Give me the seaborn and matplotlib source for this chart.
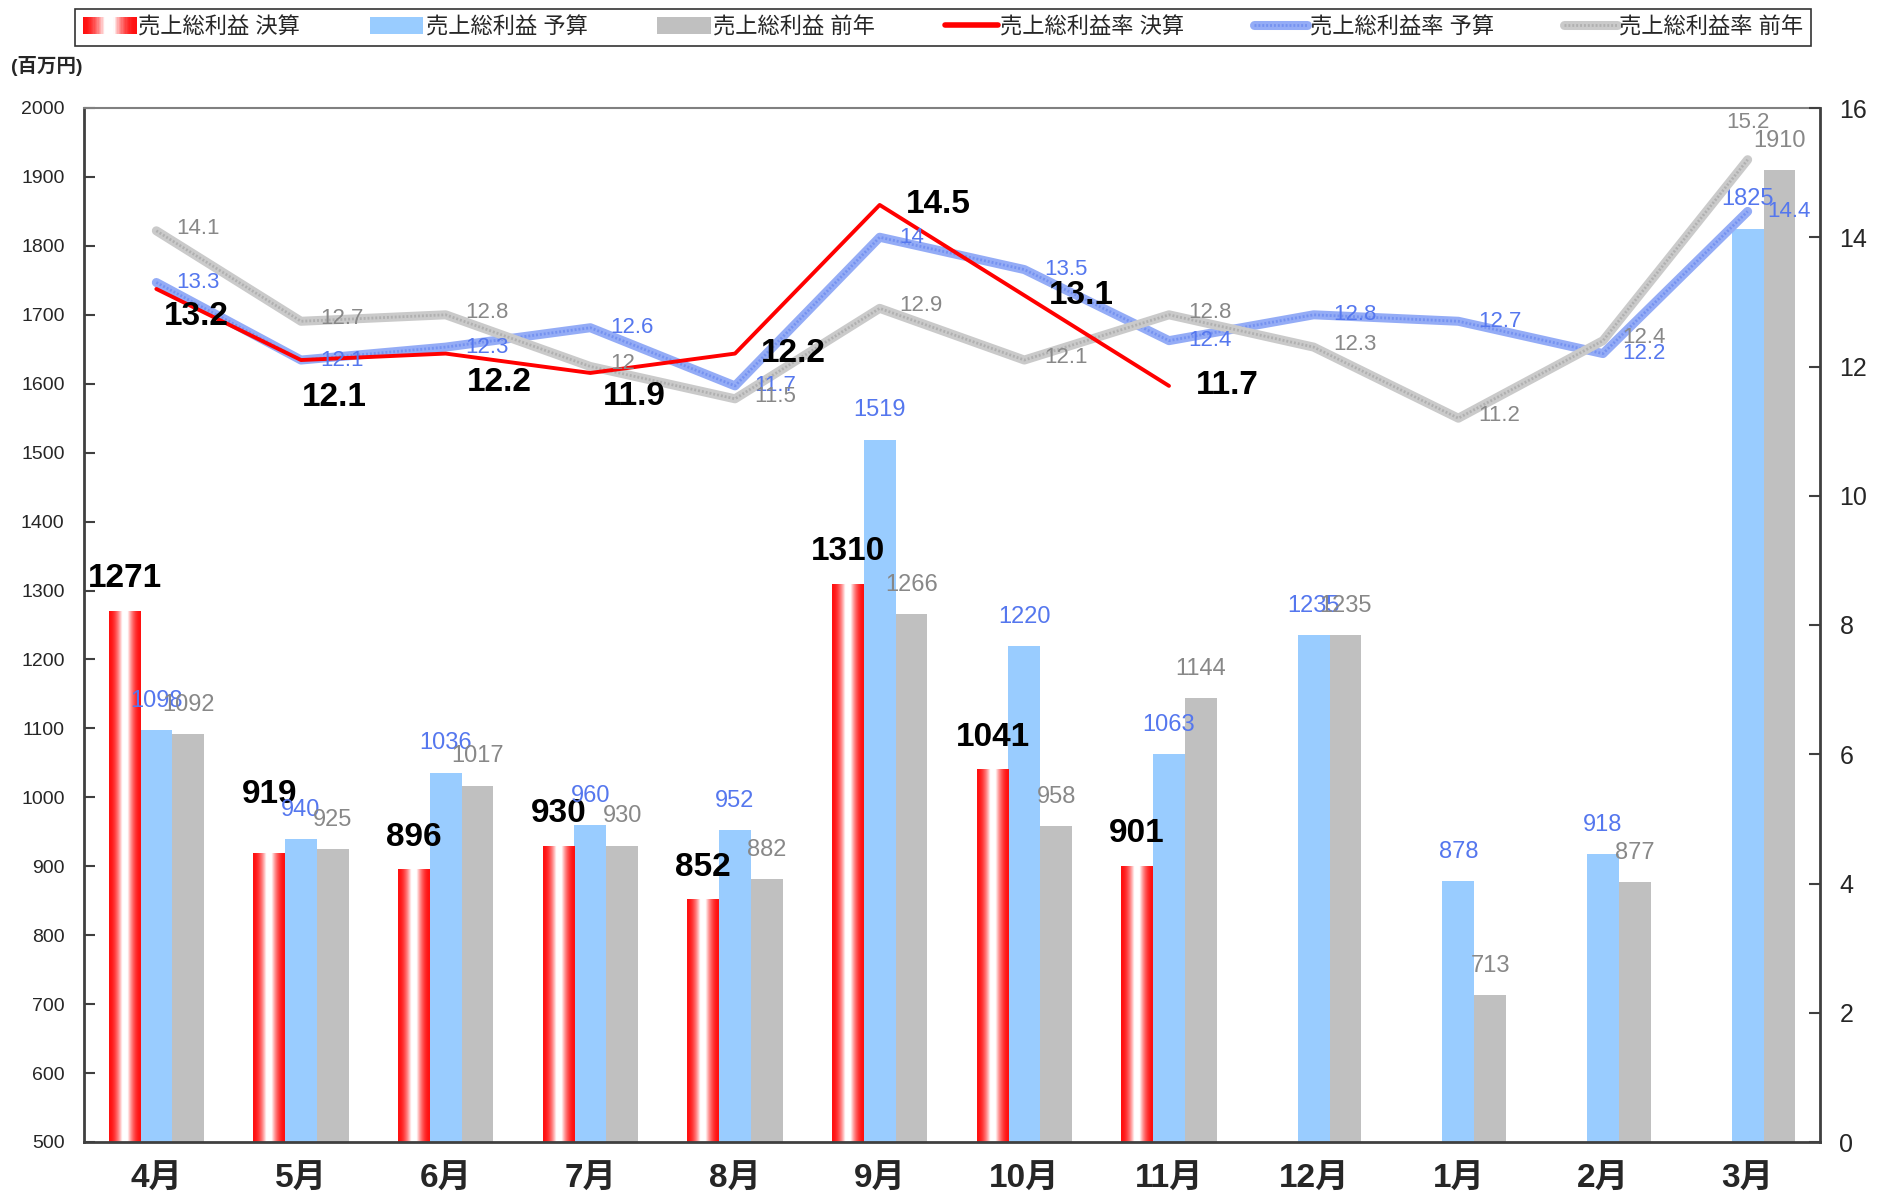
import numpy as np
import pandas as pd
import matplotlib
matplotlib.use('Agg')
import matplotlib.pyplot as plt
import seaborn as sns
from matplotlib.colors import LinearSegmentedColormap
from matplotlib.legend_handler import HandlerBase, HandlerTuple
from matplotlib.patches import Rectangle, Patch
from matplotlib.lines import Line2D

# data
months = ['4月', '5月', '6月', '7月', '8月', '9月', '10月', '11月', '12月', '1月', '2月', '3月']
gp_actual = [1271, 919, 896, 930, 852, 1310, 1041, 901]
gp_budget = [1098, 940, 1036, 960, 952, 1519, 1220, 1063, 1235, 878, 918, 1825]
gp_prev = [1092, 925, 1017, 930, 882, 1266, 958, 1144, 1235, 713, 877, 1910]
rate_actual = [13.2, 12.1, 12.2, 11.9, 12.2, 14.5, 13.1, 11.7]
rate_budget = [13.3, 12.1, 12.3, 12.6, 11.7, 14, 13.5, 12.4, 12.8, 12.7, 12.2, 14.4]
rate_prev = [14.1, 12.7, 12.8, 12, 11.5, 12.9, 12.1, 12.8, 12.3, 11.2, 12.4, 15.2]

bar_names = ['売上総利益 決算', '売上総利益 予算', '売上総利益 前年']
line_names = ['売上総利益率 決算', '売上総利益率 予算', '売上総利益率 前年']

# label placement tweaks (points)
actual_rate_offsets = [(29, -20), (24, -27), (39, -21), (32, -17), (42, 0), (42, 0), (41, 0), (42, 0)]
actual_bar_extra = {1: 19}

RED = '#ff0000'
BLUE = '#99ccff'
GRAY = '#c0c0c0'
BLUE_TXT = '#5577ee'
GRAY_TXT = '#888888'
Y_MIN, Y_MAX = 500, 2000

sns.set_style('white')
plt.rcParams['font.family'] = ['Liberation Sans', 'Noto Sans CJK JP']

rows = []
for name, vals in zip(bar_names, [gp_actual, gp_budget, gp_prev]):
    for m, v in zip(months, vals):
        rows.append({'month': m, 'series': name, 'value': v})
df = pd.DataFrame(rows)

fig = plt.figure(figsize=(18.91, 12.01), dpi=100)
ax = fig.add_axes([84 / 1891, 1 - 1142 / 1201, (1820 - 84) / 1891, (1142 - 108) / 1201])

sns.barplot(data=df, x='month', y='value', hue='series', order=months, hue_order=bar_names,
            palette=[RED, BLUE, GRAY], width=0.66, saturation=1, errorbar=None,
            linewidth=0, legend=False, ax=ax)

# red-white-red horizontal gradient for the actual bars
grad_cmap = LinearSegmentedColormap.from_list('rw', ['#ff1010', '#ffffff'])


def profile(t):
    v = 1 - np.abs(2 * t - 1)
    return np.clip(v * 1.2, 0, 1) ** 2


tt = np.linspace(0, 1, 256)
grad = profile(tt)[None, :]
for bar in ax.containers[0]:
    x0 = bar.get_x()
    w = bar.get_width()
    h = bar.get_height()
    im = ax.imshow(grad, extent=[x0, x0 + w, Y_MIN, h], aspect='auto', cmap=grad_cmap,
                   vmin=0, vmax=1, zorder=bar.get_zorder() + 0.1, interpolation='bilinear')
    im.set_clip_path(bar)

# bar value labels
for i, bar in enumerate(ax.containers[0]):
    xc = bar.get_x() + bar.get_width() / 2
    h = bar.get_height()
    ax.annotate(f'{h:.0f}', (xc, h), xytext=(0, 23 + actual_bar_extra.get(i, 0)),
                textcoords='offset points', ha='center', va='center',
                fontsize=24, fontweight='bold', color='black', zorder=6)
for cont, col in [(ax.containers[1], BLUE_TXT), (ax.containers[2], GRAY_TXT)]:
    for bar in cont:
        xc = bar.get_x() + bar.get_width() / 2
        h = bar.get_height()
        ax.annotate(f'{h:.0f}', (xc, h), xytext=(0, 21), textcoords='offset points',
                    ha='center', va='center', fontsize=17, color=col, zorder=6)

ax.set_xlim(-0.5, len(months) - 0.5)
ax.set_ylim(Y_MIN, Y_MAX)
ax.set_yticks(range(Y_MIN, Y_MAX + 1, 100))
ax.set_xlabel('')
ax.set_ylabel('')
ax.set_xticks(range(len(months)))
ax.set_xticklabels(months, fontsize=24, fontweight='bold')
ax.set_xticks(np.arange(0.5, len(months) - 1, 1), minor=True)
ax.tick_params(axis='x', which='major', length=0, pad=16)
ax.tick_params(axis='x', which='minor', direction='in', length=8, width=1.5, color='#404040')
ax.tick_params(axis='y', direction='in', length=8, width=1.5, color='#404040',
               labelsize=14, pad=14)

# rate lines on secondary axis
ax2 = ax.twinx()
x_all = np.arange(len(months))
sns.lineplot(x=x_all, y=rate_budget, ax=ax2, color='#94acf6', linewidth=6.5, zorder=2)
sns.lineplot(x=x_all, y=rate_budget, ax=ax2, color='#7592f0', linewidth=2, zorder=2.1,
             linestyle=(0, (0.7, 0.7)))
sns.lineplot(x=x_all, y=rate_prev, ax=ax2, color='#cacaca', linewidth=6.5, zorder=3)
sns.lineplot(x=x_all, y=rate_prev, ax=ax2, color='#b0b0b0', linewidth=2, zorder=3.1,
             linestyle=(0, (0.7, 0.7)))
sns.lineplot(x=x_all[:len(rate_actual)], y=rate_actual, ax=ax2, color=RED, linewidth=2.8, zorder=4)

for i, v in enumerate(rate_budget):
    ax2.annotate(f'{v:g}', (i, v), xytext=(14, 0), textcoords='offset points',
                 ha='left', va='center', fontsize=16, color=BLUE_TXT, zorder=6)
for i, v in enumerate(rate_prev):
    if i == len(rate_prev) - 1:
        ax2.annotate(f'{v:g}', (i, v), xytext=(0, 27), textcoords='offset points',
                     ha='center', va='center', fontsize=16, color=GRAY_TXT, zorder=6)
    else:
        ax2.annotate(f'{v:g}', (i, v), xytext=(14, 2), textcoords='offset points',
                     ha='left', va='center', fontsize=16, color=GRAY_TXT, zorder=6)
for i, v in enumerate(rate_actual):
    dx, dy = actual_rate_offsets[i]
    ax2.annotate(f'{v:g}', (i, v), xytext=(dx, dy), textcoords='offset points',
                 ha='center', va='center', fontsize=24, fontweight='bold', color='black', zorder=6)

ax2.set_ylim(0, 16)
ax2.set_yticks(range(0, 17, 2))
ax2.tick_params(axis='y', direction='in', length=8, width=1.5, color='#404040',
                labelsize=18, pad=14)
ax2.set_xlim(-0.5, len(months) - 0.5)
ax2.set_ylabel('')

for s in ['left', 'bottom']:
    ax.spines[s].set_color('#404040')
    ax.spines[s].set_linewidth(2)
ax.spines['top'].set_color('#808080')
ax.spines['top'].set_linewidth(1.5)
ax.spines['right'].set_visible(False)
for s in ['left', 'bottom', 'top']:
    ax2.spines[s].set_visible(False)
ax2.spines['right'].set_color('#404040')
ax2.spines['right'].set_linewidth(2)

fig.text(0.006, 1 - 66 / 1201, '(百万円)', fontsize=14, fontweight='bold', va='center', ha='left')


# legend with gradient patch
class HandlerGrad(HandlerBase):
    def create_artists(self, legend, orig_handle, xdescent, ydescent, width, height, fontsize, trans):
        n = 40
        arts = []
        for k in range(n):
            t = (k + 0.5) / n
            arts.append(Rectangle((-xdescent + width * k / n, -ydescent), width / n * 1.3, height,
                                  facecolor=grad_cmap(profile(t)), edgecolor='none',
                                  linewidth=0, transform=trans))
        return arts


h_grad = Rectangle((0, 0), 1, 1)
h_blue = Patch(facecolor=BLUE, edgecolor='none')
h_gray = Patch(facecolor=GRAY, edgecolor='none')
h_red = Line2D([], [], color=RED, linewidth=4)
h_bl = (Line2D([], [], color='#94acf6', linewidth=6.5),
        Line2D([], [], color='#7592f0', linewidth=2, linestyle=(0, (0.7, 0.7))))
h_gl = (Line2D([], [], color='#cacaca', linewidth=6.5),
        Line2D([], [], color='#b0b0b0', linewidth=2, linestyle=(0, (0.7, 0.7))))

leg = fig.legend([h_grad, h_blue, h_gray, h_red, h_bl, h_gl], bar_names + line_names,
                 handler_map={Rectangle: HandlerGrad(), tuple: HandlerTuple(ndivide=1)},
                 loc='lower left', bbox_to_anchor=(75 / 1891, 1 - 46 / 1201, (1811 - 75) / 1891, 40 / 1201),
                 mode='expand', ncol=6, borderaxespad=0, fancybox=False, frameon=True,
                 edgecolor='black', fontsize=16, handlelength=2.4, handleheight=0.8,
                 handletextpad=0.1, borderpad=0.35)
leg.get_frame().set_linewidth(1.2)

fig.savefig('out.png', dpi=100)
